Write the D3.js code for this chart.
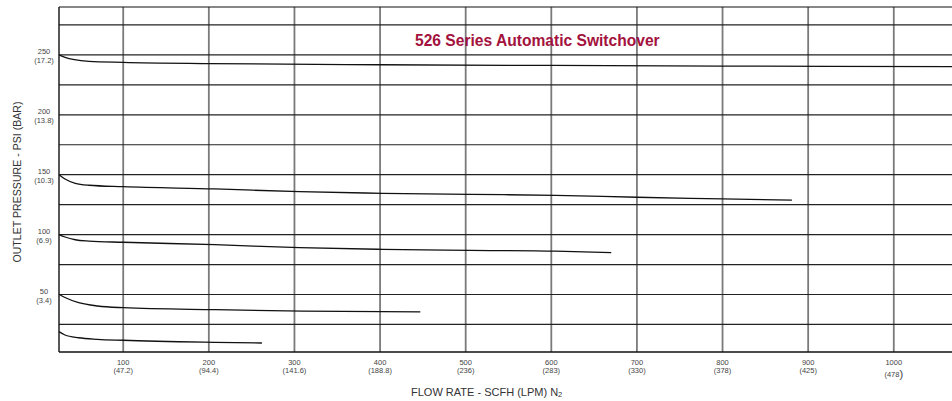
<!DOCTYPE html>
<html>
<head>
<meta charset="utf-8">
<script src="https://cdn.jsdelivr.net/npm/d3@7"></script>
<style>
  body { margin: 0; background: white; }
  svg { display: block; font-family: "Liberation Sans", Arial, sans-serif; }
</style>
</head>
<body>
<div id="chart"></div>
<script>
    // tick values and labels
    var flowTicks = [100, 200, 300, 400, 500, 600, 700, 800, 900, 1000];
    var lpmLabels = ["47.2", "94.4", "141.6", "188.8", "236", "283", "330", "378", "425", "478"];
    var psiTicks = [50, 100, 150, 200, 250];
    var barLabels = ["3.4", "6.9", "10.3", "13.8", "17.2"];
    var gridPsi = [25, 50, 75, 100, 125, 150, 175, 200, 225, 250, 275];

    // curves: [flow scfh, outlet psi]
    var curve250 = [[25, 250], [32, 248], [43, 246], [60, 244.6], [100, 243.8], [200, 242.8], [400, 241.8], [600, 241.2], [800, 240.7], [1070, 240.2]];
    var curve150 = [[25, 150], [32, 146.4], [44, 142.8], [60, 141.2], [100, 140], [207, 138.1], [306, 135.8], [403, 134.5], [505, 133.6], [605, 132.8], [700, 131.2], [800, 129.8], [881, 128.7]];
    var curve100 = [[25, 100], [32, 98], [44, 95.7], [60, 94.6], [100, 93.6], [207, 91.6], [306, 89.1], [403, 87.7], [505, 86.9], [605, 86.2], [670, 85]];
    var curve50 = [[25, 50.2], [32, 47.5], [48, 43.2], [70, 40.4], [100, 39], [207, 37.3], [310, 36.2], [447, 35.5]];
    var curve20 = [[25, 19], [32, 16.2], [48, 13.9], [70, 12.6], [100, 11.8], [207, 10.1], [262, 9.5]];

    var textGrey = "#444";
    var titleRed = "#a3123d";

    const margin = { top: 7, right: 0, bottom: 49, left: 59 },
      width = 952 - margin.left - margin.right,
      height = 401 - margin.top - margin.bottom;

    const svg = d3.select("#chart")
      .append("svg")
      .attr("width", 952)
      .attr("height", 401);

    const g = svg.append("g")
      .attr("transform", `translate(${margin.left},${margin.top})`);

    const x = d3.scaleLinear().domain([25, 1068]).range([0, width]);
    const y = d3.scaleLinear().domain([2, 290]).range([height, 0]);

    // vertical grid
    g.selectAll(".vgrid")
      .data(flowTicks)
      .enter()
      .append("line")
      .attr("x1", d => x(d)).attr("x2", d => x(d))
      .attr("y1", 0).attr("y2", height)
      .attr("stroke", "#7a7a7a")
      .attr("stroke-width", 1.8);

    // horizontal grid
    g.selectAll(".hgrid")
      .data(gridPsi)
      .enter()
      .append("line")
      .attr("x1", 0).attr("x2", width)
      .attr("y1", d => y(d)).attr("y2", d => y(d))
      .attr("stroke", "#222")
      .attr("stroke-width", 1.2);

    // frame
    g.append("line").attr("x1", 0).attr("x2", width).attr("y1", 0).attr("y2", 0)
      .attr("stroke", "#111").attr("stroke-width", 1.2);
    g.append("line").attr("x1", 0).attr("x2", width).attr("y1", height).attr("y2", height)
      .attr("stroke", "#111").attr("stroke-width", 1.4);
    g.append("line").attr("x1", 0).attr("x2", 0).attr("y1", 0).attr("y2", height)
      .attr("stroke", "#111").attr("stroke-width", 1.4);

    // curves
    const line = d3.line()
      .x(d => x(d[0]))
      .y(d => y(d[1]))
      .curve(d3.curveMonotoneX);

    g.selectAll(".curve")
      .data([curve250, curve150, curve100, curve50, curve20])
      .enter()
      .append("path")
      .attr("d", line)
      .attr("fill", "none")
      .attr("stroke", "#111")
      .attr("stroke-width", 1.3);

    // x tick labels
    const xLab = g.selectAll(".xlab")
      .data(flowTicks)
      .enter()
      .append("text")
      .attr("text-anchor", "middle")
      .attr("fill", textGrey)
      .style("font-size", "7.5px");
    xLab.append("tspan")
      .attr("x", d => x(d))
      .attr("y", height + 13)
      .text(d => d);
    xLab.append("tspan")
      .attr("x", d => x(d))
      .attr("y", (d, i) => height + (i === 9 ? 25 : 21))
      .text((d, i) => i === 9 ? "(" + lpmLabels[i] : "(" + lpmLabels[i] + ")");
    // odd oversized paren on the last label
    xLab.filter((d, i) => i === 9)
      .append("tspan")
      .style("font-size", "11px")
      .attr("dy", 0.5)
      .text(")");

    // y tick labels
    const yLab = g.selectAll(".ylab")
      .data(psiTicks)
      .enter()
      .append("text")
      .attr("text-anchor", "middle")
      .attr("fill", textGrey)
      .style("font-size", "7.5px");
    yLab.append("tspan")
      .attr("x", -15)
      .attr("y", d => y(d) - 0.5)
      .text(d => d);
    yLab.append("tspan")
      .attr("x", -15)
      .attr("y", d => y(d) + 8.5)
      .text((d, i) => "(" + barLabels[i] + ")");

    // axis titles
    svg.append("text")
      .attr("transform", "translate(21,182) rotate(-90)")
      .attr("text-anchor", "middle")
      .attr("fill", "#333")
      .style("font-size", "10.6px")
      .text("OUTLET PRESSURE - PSI (BAR)");

    const xTitle = svg.append("text")
      .attr("x", 411)
      .attr("y", 396)
      .attr("fill", "#333")
      .style("font-size", "11px")
      .text("FLOW RATE - SCFH (LPM) N");
    xTitle.append("tspan")
      .style("font-size", "7.5px")
      .attr("dy", 0.5)
      .text("2");

    // chart title
    svg.append("text")
      .attr("x", 415)
      .attr("y", 46)
      .attr("fill", titleRed)
      .style("font-size", "15.6px")
      .style("font-weight", "bold")
      .text("526 Series Automatic Switchover");
</script>
</body>
</html>
